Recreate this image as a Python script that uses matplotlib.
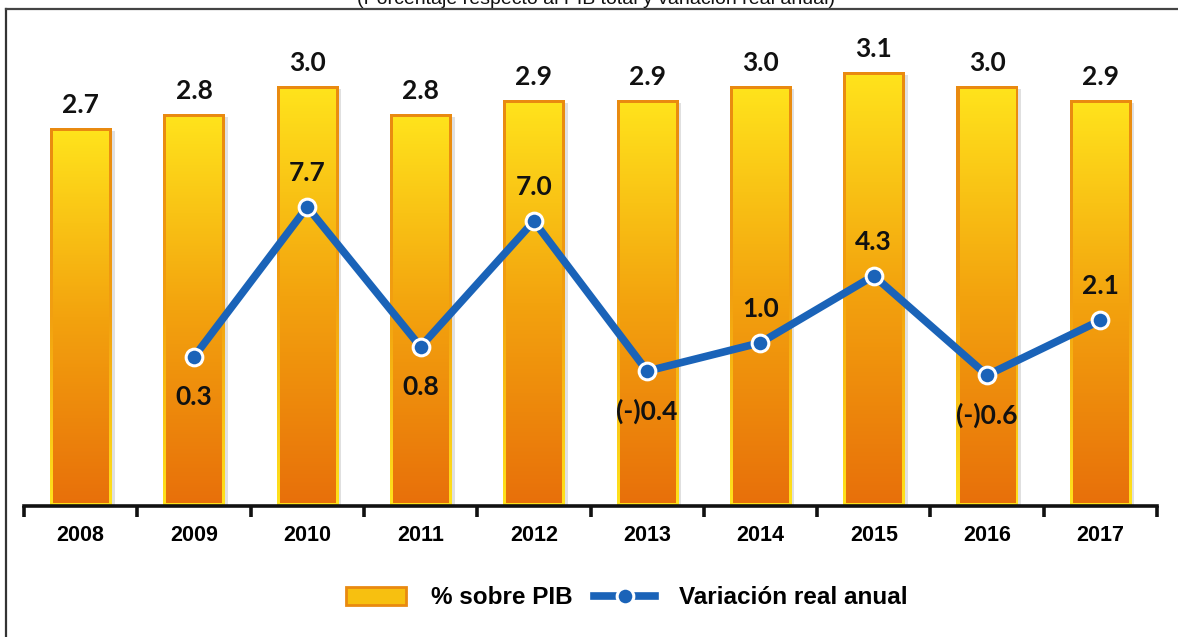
import matplotlib.pyplot as plt
import numpy as np
from matplotlib.colors import LinearSegmentedColormap
from matplotlib.lines import Line2D
from matplotlib.patches import Patch, Rectangle

years = ["2008", "2009", "2010", "2011", "2012", "2013", "2014", "2015", "2016", "2017"]
pib_share = [2.7, 2.8, 3.0, 2.8, 2.9, 2.9, 3.0, 3.1, 3.0, 2.9]
real_var = [np.nan, 0.3, 7.7, 0.8, 7.0, -0.4, 1.0, 4.3, -0.6, 2.1]
var_labels = ["", "0.3", "7.7", "0.8", "7.0", "(-)0.4", "1.0", "4.3", "(-)0.6", "2.1"]
var_above = [True, False, True, False, True, False, True, True, False, True]

YELLOW = "#FFE31C"
ORANGE = "#E8700A"
BLUE = "#1A63B8"

inner_cmap = LinearSegmentedColormap.from_list("inner", [ORANGE, "#F3A30E", YELLOW])
edge_cmap = LinearSegmentedColormap.from_list("edge", [YELLOW, "#F2A010", "#E98A10"])

fig = plt.figure(figsize=(11.78, 6.37), dpi=100)
ax = fig.add_axes([24 / 1178, 131 / 637, 1133 / 1178, 486 / 637])
ax2 = ax.twinx()

x = np.arange(len(years))
bar_w = 0.54
grad = np.linspace(0, 1, 256).reshape(-1, 1)

# bars: gradient fill with a reversed-gradient border
for xi, v in zip(x, pib_share):
    # soft shadow
    ax.add_patch(Rectangle((xi - bar_w / 2 + 0.03, 0), bar_w, v - 0.02,
                           facecolor="#000000", alpha=0.12, edgecolor="none", zorder=1))
    outer = Rectangle((xi - bar_w / 2, 0), bar_w, v, facecolor="none", edgecolor="none")
    ax.add_patch(outer)
    im = ax.imshow(grad, cmap=edge_cmap, aspect="auto", origin="lower",
                   extent=(xi - bar_w / 2, xi + bar_w / 2, 0, v), zorder=2)
    im.set_clip_path(outer)
    dx, dy = 0.027, 0.02
    inner = Rectangle((xi - bar_w / 2 + dx, dy), bar_w - 2 * dx, v - 2 * dy,
                      facecolor="none", edgecolor="none")
    ax.add_patch(inner)
    im2 = ax.imshow(grad, cmap=inner_cmap, aspect="auto", origin="lower",
                    extent=(xi - bar_w / 2 + dx, xi + bar_w / 2 - dx, dy, v - dy), zorder=3)
    im2.set_clip_path(inner)
    ax.annotate(f"{v:.1f}", (xi, v), xytext=(0, 8), textcoords="offset points",
                ha="center", va="bottom", fontsize=19, fontweight="bold",
                family="Lato", color="#111111", zorder=5)

ax.set_xlim(-0.5, len(years) - 0.5)
ax.set_ylim(0, 486 / 140)

# line on secondary axis
ax2.plot(x, real_var, color=BLUE, lw=5.5, marker="o", markersize=12,
         markerfacecolor=BLUE, markeredgecolor="white", markeredgewidth=2.2,
         solid_joinstyle="miter", zorder=4)
for xi, v, lab, up in zip(x, real_var, var_labels, var_above):
    if not lab:
        continue
    ax2.annotate(lab, (xi, v), xytext=(0, 16 if up else -20), textcoords="offset points",
                 ha="center", va="bottom" if up else "top", fontsize=19,
                 fontweight="bold", family="Lato", color="#111111", zorder=5)
ax2.set_ylim(-143 / 20.27, 343 / 20.27)
ax2.set_yticks([])

# axes styling
for a in (ax, ax2):
    for s in ("top", "right", "left"):
        a.spines[s].set_visible(False)
ax2.spines["bottom"].set_visible(False)
ax.spines["bottom"].set_linewidth(2.6)
ax.spines["bottom"].set_color("#111111")
ax.set_yticks([])
ax.set_xticks(np.arange(-0.5, len(years), 1.0))
ax.set_xticklabels([])
ax.set_xticks(x, minor=True)
ax.set_xticklabels(years, minor=True, fontsize=15.5, fontweight="bold", family="Liberation Sans")
ax.tick_params(axis="x", which="major", direction="out", length=8, width=2.6, color="#111111")
ax.tick_params(axis="x", which="minor", length=0, pad=14)

# outer frame and clipped subtitle
fig.add_artist(Line2D([6 / 1178, 6 / 1178], [0, 1 - 9 / 637], transform=fig.transFigure,
                      color="#333333", lw=1.6))
fig.add_artist(Line2D([6 / 1178, 1], [1 - 9 / 637, 1 - 9 / 637], transform=fig.transFigure,
                      color="#444444", lw=1.6))
fig.text(0.506, 1 - 4 / 637, "(Porcentaje respecto al PIB total y variación real anual)",
         ha="center", va="baseline", fontsize=14, family="Liberation Sans", color="#111111")

# legend
handles = [
    Patch(facecolor="#F7C010", edgecolor="#E98A10", linewidth=2),
    Line2D([0], [0], color=BLUE, lw=5.5, marker="o", markersize=12,
           markerfacecolor=BLUE, markeredgecolor="white", markeredgewidth=2.2),
]
fig.legend(handles, ["% sobre PIB", "Variación real anual"], loc="center",
           bbox_to_anchor=(0.532, 1 - 598 / 637), ncol=2, frameon=False,
           prop={"family": "Liberation Sans", "weight": "bold", "size": 17.5},
           handlelength=2.5, handleheight=0.75, columnspacing=0.9, handletextpad=1.0)

fig.savefig("out.png", dpi=100)
